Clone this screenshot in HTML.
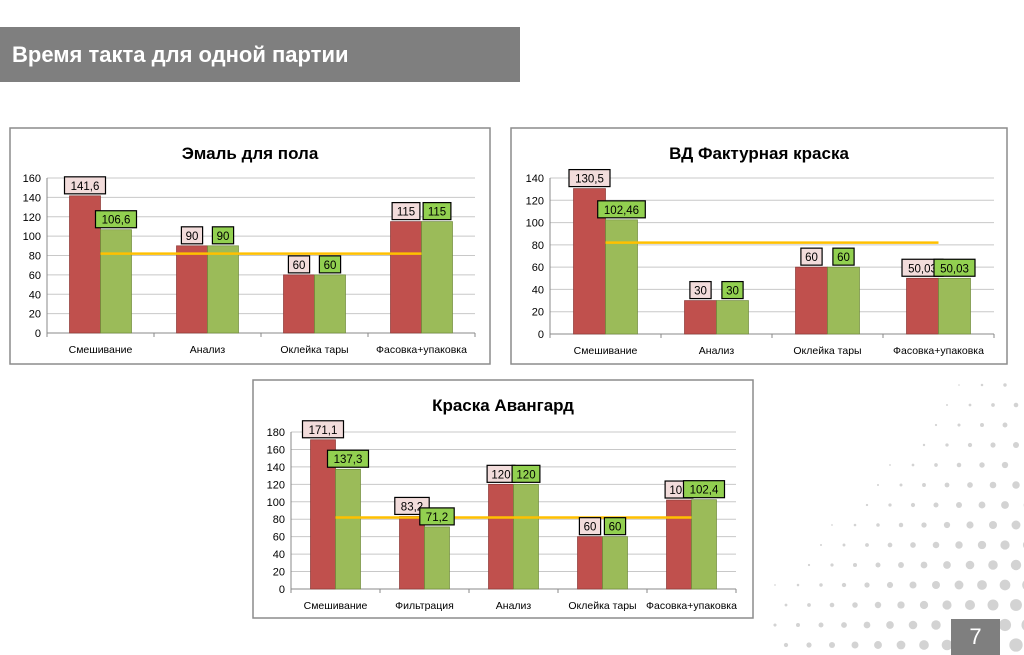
<!DOCTYPE html>
<html><head><meta charset="utf-8">
<style>
html,body{margin:0;padding:0;background:#fff;}
body{width:1024px;height:655px;position:relative;overflow:hidden;font-family:"Liberation Sans","DejaVu Sans",sans-serif;}
#header{position:absolute;left:0;top:27px;width:520px;height:55px;background:#7f7f7f;color:#fff;font-weight:bold;font-size:22px;line-height:55px;padding-left:12px;box-sizing:border-box;}
#pagenum{position:absolute;left:951px;top:619px;width:49px;height:36px;background:#7f7f7f;color:#fff;font-size:22px;text-align:center;line-height:36px;}
svg{position:absolute;left:0;top:0;}
</style></head><body>
<svg id="deco" width="1024" height="655"></svg>
<div id="header">Время такта для одной партии</div>
<svg id="charts" width="1024" height="655"></svg>
<div id="pagenum">7</div>
<script>
const c1Categories=["Смешивание","Анализ","Оклейка тары","Фасовка+упаковка"];
const c1Red=[141.6,90,60,115];
const c1Green=[106.6,90,60,115];
const c1RedLabels=["141,6","90","60","115"];
const c1GreenLabels=["106,6","90","60","115"];
const c1Ticks=[0,20,40,60,80,100,120,140,160];
const c1Target=82;

const c2Categories=["Смешивание","Анализ","Оклейка тары","Фасовка+упаковка"];
const c2Red=[130.5,30,60,50.03];
const c2Green=[102.46,30,60,50.03];
const c2RedLabels=["130,5","30","60","50,03"];
const c2GreenLabels=["102,46","30","60","50,03"];
const c2Ticks=[0,20,40,60,80,100,120,140];
const c2Target=82;

const c3Categories=["Смешивание","Фильтрация","Анализ","Оклейка тары","Фасовка+упаковка"];
const c3Red=[171.1,83.2,120,60,102];
const c3Green=[137.3,71.2,120,60,102.4];
const c3RedLabels=["171,1","83,2","120","60","102"];
const c3GreenLabels=["137,3","71,2","120","60","102,4"];
const c3Ticks=[0,20,40,60,80,100,120,140,160,180];
const c3Target=82;

const NS="http://www.w3.org/2000/svg";
function mk(parent,tag,attrs){const e=document.createElementNS(NS,tag);for(const k in attrs)e.setAttribute(k,attrs[k]);parent.appendChild(e);return e;}

const deco=document.getElementById('deco');
for(let gx=0;gx<12;gx++){for(let gy=0;gy<15;gy++){
  const x=775+gx*23+(gy%2)*11, y=385+gy*20;
  if(x>1030||y>665)continue;
  const d=((x-770)/254+(y-380)/275)/2;
  const r=Math.max(0,d*10-3);
  if(r<0.8)continue;
  const c=mk(deco,'circle',{cx:x,cy:y,r:r,fill:'#d3d3d3'});
  
  
}}

const svg=document.getElementById('charts');
function chart(o){
  const g=mk(svg,'g',{});
  
  
  const fr=mk(g,'rect',{x:o.fx,y:o.fy,width:o.fw,height:o.fh,fill:'#fff',stroke:'#8c8c8c','stroke-width':1.5});
  
  
  const t=mk(g,'text',{x:o.fx+o.fw/2,y:o.fy+31,'text-anchor':'middle','font-size':17,'font-weight':'bold',fill:'#000'});
  t.textContent=o.title;
  
  
  const max=o.ticks[o.ticks.length-1];
  const Y=v=>o.y0-(v/max)*(o.y0-o.yTop);
  const n=o.cats.length, cw=(o.x1-o.x0)/n;
  const X=i=>o.x0+cw*(i+0.5);
  o.ticks.forEach(v=>{
    const l=mk(g,'line',{x1:o.x0,x2:o.x1,y1:Y(v),y2:Y(v),stroke:v===0?'#888':'#c8c8c8','stroke-width':1});
    
    
    const tx=mk(g,'text',{x:o.x0-6,y:Y(v)+4,'text-anchor':'end','font-size':11,fill:'#000'});
    tx.textContent=v;
    
    
  });
  for(let i=0;i<=n;i++){mk(g,'line',{x1:o.x0+cw*i,x2:o.x0+cw*i,y1:o.y0,y2:o.y0+4,stroke:'#888'});}
  mk(g,'line',{x1:o.x0,x2:o.x0,y1:o.yTop,y2:o.y0,stroke:'#888'});
  const bw=o.bw;
  o.cats.forEach((c,i)=>{
    const cx=X(i);
    const rb=mk(g,'rect',{x:cx-bw,y:Y(o.red[i]),width:bw,height:o.y0-Y(o.red[i]),fill:'#c0504d',stroke:'#8c3836','stroke-width':0.7});
    
    
    const gb=mk(g,'rect',{x:cx,y:Y(o.green[i]),width:bw,height:o.y0-Y(o.green[i]),fill:'#9bbb59',stroke:'#6f8a3a','stroke-width':0.7});
    
    
    const lx=mk(g,'text',{x:cx,y:o.y0+20,'text-anchor':'middle','font-size':10.5,fill:'#000'});
    lx.textContent=c;
    
    
  });
  const tl=mk(g,'line',{x1:X(0),x2:X(n-1),y1:Y(o.target),y2:Y(o.target),stroke:'#ffc000','stroke-width':2.5});
  
  
  o.cats.forEach((c,i)=>{
    const cx=X(i);
    [[o.redL[i],o.red[i],cx-bw/2,'#f2dcdb','red'],[o.greenL[i],o.green[i],cx+bw/2,'#92d050','green']].forEach(a=>{
      const w=a[0].length*6.6+8, h=17, y=Y(a[1])-h-2;
      const r=mk(g,'rect',{x:a[2]-w/2,y:y,width:w,height:h,fill:a[3],stroke:'#000','stroke-width':1.2});
      
      
      const tx=mk(g,'text',{x:a[2],y:y+13,'text-anchor':'middle','font-size':11.5,fill:'#000'});
      tx.textContent=a[0];
      
      
    });
  });
}
chart({name:'chart-emal',title:'Эмаль для пола',fx:10,fy:128,fw:480,fh:236,x0:47,x1:475,y0:333,yTop:178,bw:31,cats:c1Categories,red:c1Red,green:c1Green,redL:c1RedLabels,greenL:c1GreenLabels,ticks:c1Ticks,target:c1Target});
chart({name:'chart-vd',title:'ВД Фактурная краска',fx:511,fy:128,fw:496,fh:236,x0:550,x1:994,y0:334,yTop:178,bw:32,cats:c2Categories,red:c2Red,green:c2Green,redL:c2RedLabels,greenL:c2GreenLabels,ticks:c2Ticks,target:c2Target});
chart({name:'chart-avangard',title:'Краска Авангард',fx:253,fy:380,fw:500,fh:238,x0:291,x1:736,y0:589,yTop:432,bw:25,cats:c3Categories,red:c3Red,green:c3Green,redL:c3RedLabels,greenL:c3GreenLabels,ticks:c3Ticks,target:c3Target});
</script>
</body></html>
